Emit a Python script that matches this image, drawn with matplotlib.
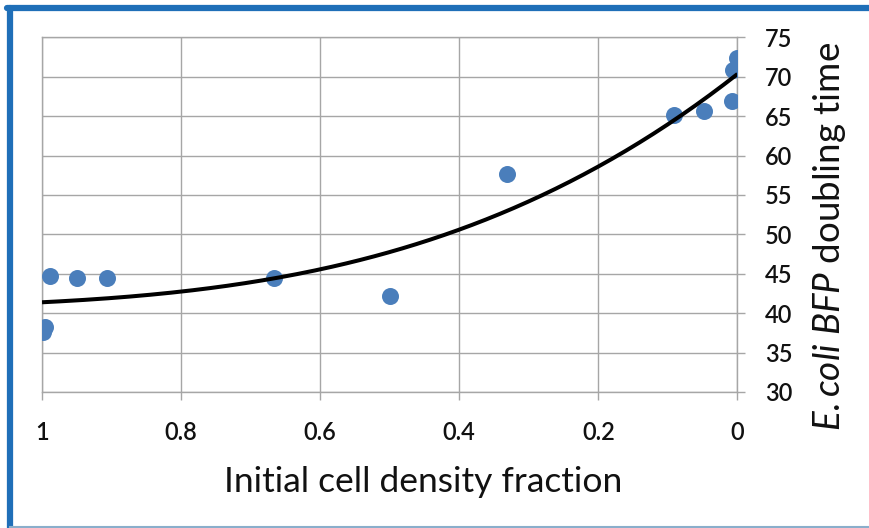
import numpy as np
import matplotlib
matplotlib.use("Agg")
import matplotlib.pyplot as plt
from matplotlib.lines import Line2D

plt.rcParams['font.family'] = ['Lato', 'DejaVu Sans']
plt.rcParams['mathtext.fontset'] = 'custom'
plt.rcParams['mathtext.rm'] = 'Lato'
plt.rcParams['mathtext.it'] = 'Lato:italic'

# Initial cell density fraction vs. E. coli BFP doubling time
density_fraction = [0.999, 0.995, 0.989, 0.950, 0.907, 0.666, 0.499,
                    0.332, 0.091, 0.048, 0.008, 0.006, 0.001]
doubling_time = [37.6, 38.2, 44.7, 44.4, 44.4, 44.5, 42.2,
                 57.7, 65.1, 65.6, 66.9, 70.8, 72.4]

x_ticks = [1, 0.8, 0.6, 0.4, 0.2, 0]
x_tick_labels = ["1", "0.8", "0.6", "0.4", "0.2", "0"]
y_ticks = [30, 35, 40, 45, 50, 55, 60, 65, 70, 75]

fig = plt.figure(figsize=(8.70, 5.28), dpi=100)
ax = fig.add_axes([0.0483, 0.2576, 0.7994, 0.6718])

grid_color = "#a6a6a6"
text_color = "#111111"
ax.scatter(density_fraction, doubling_time, s=150, color="#4a7ebb",
           zorder=3, linewidths=0)

# third-order polynomial trendline
coef = np.polyfit(density_fraction, doubling_time, 3)
xs = np.linspace(0, 1, 200)
ax.plot(xs, np.polyval(coef, xs), color="black", lw=2.9, zorder=4,
        solid_capstyle="butt")

ax.set_xlim(1, 0)
ax.set_ylim(30, 75)
ax.set_xticks(x_ticks)
ax.set_xticklabels(x_tick_labels)
ax.set_yticks(y_ticks)
ax.yaxis.tick_right()
ax.yaxis.set_label_position("right")
ax.grid(True, color=grid_color, lw=1.0)
for s in ax.spines.values():
    s.set_color(grid_color)
    s.set_linewidth(1.0)
ax.tick_params(axis="both", length=6, width=1.0, color=grid_color,
               labelsize=17, labelcolor=text_color)
ax.tick_params(axis="x", pad=15)
ax.tick_params(axis="y", pad=14)
for lbl in ax.get_xticklabels() + ax.get_yticklabels():
    lbl.set_fontweight("semibold")

ax.set_xlabel("Initial cell density fraction", fontsize=25.5,
              color=text_color, ha="center", va="center")
ax.xaxis.set_label_coords(0.548, -0.255)
ax.set_ylabel(r"$\it{E.coli}$ $\it{BFP}$ doubling time", fontsize=26.5,
              rotation=90, color=text_color, ha="center", va="center")
ax.yaxis.set_label_coords(1.133, 0.437)

# blue frame around the chart
blue = "#1f6fb8"
fig.add_artist(Line2D([7 / 870, 1], [1 - 8 / 528, 1 - 8 / 528],
                      color=blue, lw=4.5, transform=fig.transFigure,
                      solid_capstyle="round"))
fig.add_artist(Line2D([10 / 870, 10 / 870], [0, 1 - 8 / 528],
                      color=blue, lw=4.5, transform=fig.transFigure,
                      solid_capstyle="round"))
fig.add_artist(Line2D([10 / 870, 1], [1.5 / 528, 1.5 / 528],
                      color="#8aaecb", lw=1.5, transform=fig.transFigure))

fig.savefig("out.png", dpi=100)
